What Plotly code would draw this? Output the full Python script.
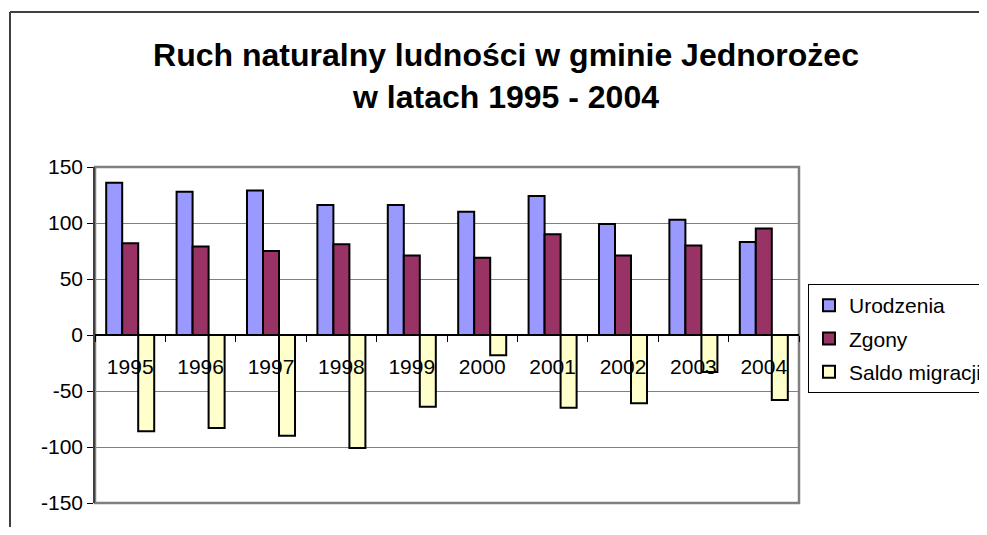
import plotly.graph_objects as go

years = ["1995", "1996", "1997", "1998", "1999", "2000", "2001", "2002", "2003", "2004"]
urodzenia = [136, 128, 129, 116, 116, 110, 124, 99, 103, 83]
zgony = [82, 79, 75, 81, 71, 69, 90, 71, 80, 95]
saldo = [-86, -83, -90, -101, -64, -18, -65, -61, -33, -58]
y_ticks = [-150, -100, -50, 0, 50, 100, 150]
y_tick_text = ["-150", "-100", "-50", "0", "50", "100", "150"]

FONT = "Liberation Sans, Arial, sans-serif"

fig = go.Figure()
series = [("Urodzenia", urodzenia, "#9999FF"),
          ("Zgony", zgony, "#993366"),
          ("Saldo migracji", saldo, "#FFFFCC")]
for name, vals, col in series:
    fig.add_trace(go.Bar(x=years, y=vals, name=name, legendgroup=name,
                         marker=dict(color=col, line=dict(color="black", width=2))))

# page has an 8px body margin; work in screen coordinates and shift
OFF = 8
W, H = 987 - OFF, 535 - 2 * OFF
L, R, T, B = 95 - OFF, 799 - OFF, 167 - OFF, 503 - OFF
pw, ph = R - L, B - T

def px(x):
    return (x - OFF - L) / pw

def py(y):
    return (B - (y - OFF)) / ph

fig.update_layout(
    width=W, height=H, autosize=False,
    margin=dict(l=L, r=W - R, t=T, b=H - B, pad=0, autoexpand=False),
    paper_bgcolor="white", plot_bgcolor="white",
    barmode="group", bargap=0.318, bargroupgap=0,
    font=dict(family=FONT, size=21, color="black"),
    title=dict(text="Ruch naturalny ludności w gminie Jednorożec<br>w latach 1995 - 2004",
               x=px(506), xref="paper", xanchor="center",
               y=1 - (66 - OFF) / H, yref="container", yanchor="top",
               font=dict(family=FONT, size=32, color="black", weight="bold")),
    legend=dict(x=(808 - OFF) / W, y=1 - (284 - OFF) / H, xref="container", yref="container",
                xanchor="left", yanchor="top",
                bgcolor="white", bordercolor="black", borderwidth=1,
                font=dict(family=FONT, size=21, color="black"),
                tracegroupgap=3, itemwidth=30),
    xaxis=dict(type="category", anchor="free", position=0.5,
               showline=True, linecolor="black", linewidth=1.5,
               ticks="outside", tickson="boundaries", ticklen=6, tickcolor="black",
               tickwidth=1, showgrid=False, ticklabelstandoff=13,
               tickfont=dict(family=FONT, size=21, color="black")),
    yaxis=dict(range=[-150, 150], tickvals=y_ticks, ticktext=y_tick_text, showgrid=True,
               gridcolor="#808080", gridwidth=1, zeroline=False,
               showline=True, linecolor="#404040", linewidth=1.5,
               ticks="outside", ticklen=6, tickcolor="black",
               tickfont=dict(family=FONT, size=21, color="black")),
    shapes=[
        dict(type="rect", xref="paper", yref="paper", x0=0, x1=1, y0=0, y1=1,
             line=dict(color="#808080", width=2.5), layer="below"),
        dict(type="line", xref="paper", yref="paper",
             x0=px(10), x1=px(1300), y0=py(12), y1=py(12),
             line=dict(color="#404040", width=2)),
        dict(type="line", xref="paper", yref="paper",
             x0=px(10), x1=px(10), y0=py(800), y1=py(12),
             line=dict(color="#404040", width=2)),
    ],
)

fig.write_html("out.html")
